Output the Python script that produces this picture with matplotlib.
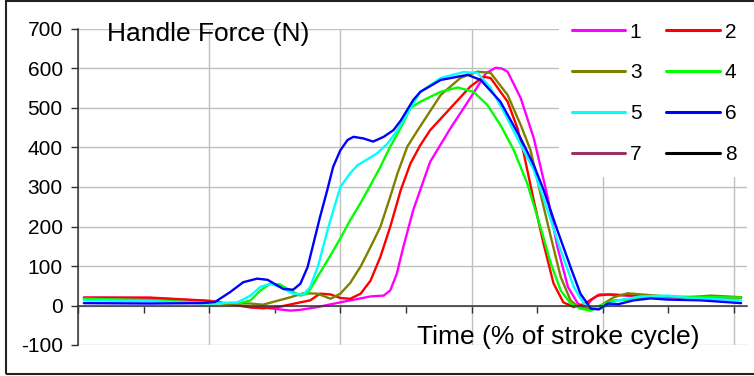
"""
Handle force over the stroke cycle for eight trials.
"""

import matplotlib
matplotlib.use("Agg")
import matplotlib.pyplot as plt
from matplotlib.patches import Rectangle

plt.rcParams["font.family"] = ["Liberation Sans", "DejaVu Sans"]
plt.rcParams["axes.unicode_minus"] = False

# trial labels and line colours
labels = ["1", "2", "3", "4", "5", "6", "7", "8"]
colors = ["#FF00FF", "#FF0000", "#808000", "#00FF00",
          "#00FFFF", "#0000FF", "#993366", "#000000"]

# time (% of stroke cycle) and handle force (N) per trial
t1 = [0.9, 11.0, 20.0, 26.3, 28.2, 32.4, 33.9, 36.5, 40.0, 41.5, 43.1, 44.6, 46.6,
      47.6, 48.6, 49.6, 51.1, 52.7, 53.7, 56.8, 59.8, 61.4, 62.2, 63.7, 64.6, 65.5,
      67.5, 69.5, 71.6, 73.1, 74.7, 76.2, 77.4, 78.3, 79.5, 81.7, 84.7, 90.0, 95.0, 101.1]
f1 = [20, 19, 11, -4, -5, -13, -11, -4, 8, 13, 18, 23, 25,
      38, 80, 148, 241, 317, 364, 449, 525, 567, 588, 602, 600, 592,
      525, 423, 275, 148, 47, 5, -4, 15, 28, 27, 24, 21, 20, 20]

t2 = [0.9, 11.0, 20.0, 26.3, 28.2, 30.8, 33.9, 35.4, 36.9, 38.5, 40.0, 41.5, 43.1,
      44.6, 46.1, 47.6, 49.2, 50.7, 52.2, 53.7, 56.8, 59.8, 61.8, 62.9, 65.5, 67.0,
      67.9, 69.5, 71.0, 72.5, 74.0, 75.6, 77.1, 79.2, 80.8, 83.8, 87.3, 95.0, 101.1]
f2 = [20, 20, 12, -5, -7, -3, 8, 13, 30, 28, 19, 17, 30,
      63, 123, 199, 292, 360, 406, 444, 500, 554, 579, 576, 516, 449,
      390, 265, 155, 56, 8, -4, 3, 25, 28, 26, 22, 20, 20]

t3 = [0.9, 11.0, 20.0, 26.3, 28.2, 32.4, 34.4, 36.5, 38.5, 40.0, 41.5, 43.1, 44.6,
      46.1, 47.6, 48.7, 50.2, 51.8, 55.3, 58.3, 60.9, 62.9, 65.5, 67.5, 69.0, 70.5,
      72.1, 73.6, 75.1, 76.3, 78.2, 79.7, 81.7, 83.8, 87.3, 92.4, 96.5, 101.1]
f3 = [17, 14, 6, 5, 2, 21, 31, 30, 17, 30, 57, 99, 148,
      199, 275, 334, 402, 444, 533, 576, 592, 589, 533, 457, 393, 284,
      173, 72, 13, -4, -8, 0, 21, 31, 26, 20, 25, 21]

t4 = [0.9, 11.0, 20.0, 24.7, 26.3, 27.8, 29.3, 30.8, 32.4, 33.9, 35.0, 36.5, 38.5,
      40.0, 41.5, 43.1, 44.6, 46.1, 47.6, 49.2, 50.7, 52.2, 55.3, 57.9, 60.3, 62.4,
      64.4, 66.4, 68.5, 70.5, 72.1, 73.6, 75.1, 76.6, 78.2, 79.7, 81.7, 84.7, 87.3,
      89.9, 101.1]
f4 = [17, 13, 6, 6, 13, 38, 55, 53, 38, 25, 30, 72, 127,
      170, 216, 260, 305, 351, 402, 450, 500, 516, 541, 552, 541, 508,
      457, 395, 309, 199, 106, 38, 5, -8, -13, 0, 13, 15, 21,
      23, 20]

t5 = [0.9, 11.0, 20.0, 24.3, 26.3, 27.8, 29.3, 30.8, 32.8, 34.4, 35.4, 36.6, 38.2,
      40.0, 41.5, 42.6, 43.5, 45.6, 47.2, 48.7, 52.2, 55.3, 58.8, 60.9, 62.9, 64.9,
      67.0, 69.5, 71.6, 73.6, 75.6, 77.1, 78.6, 80.2, 82.3, 85.8, 89.9, 92.4, 101.1]
f5 = [13, 11, 5, 8, 25, 47, 55, 47, 30, 28, 47, 100, 200,
      300, 335, 355, 364, 385, 410, 444, 541, 576, 591, 589, 551, 491,
      423, 343, 241, 140, 47, 5, -8, -4, 13, 23, 25, 20, 13]

t6 = [0.9, 11.0, 19.0, 20.9, 23.2, 25.2, 27.3, 28.9, 31.3, 32.8, 33.9, 35.0, 35.9,
      36.9, 38.0, 38.9, 40.0, 41.1, 42.0, 43.5, 45.0, 46.6, 48.1, 49.2, 51.1, 52.2,
      55.3, 59.4, 61.4, 64.4, 67.5, 69.5, 71.0, 73.1, 75.1, 76.6, 78.2, 79.4, 80.8,
      82.3, 84.7, 87.3, 89.9, 95.0, 101.1]
f6 = [6, 5, 6, 9, 34, 59, 68, 65, 42, 40, 55, 97, 157,
      224, 292, 351, 393, 419, 427, 423, 415, 427, 444, 468, 520, 541,
      571, 584, 571, 516, 423, 355, 292, 190, 97, 30, -8, -10, 5,
      3, 13, 18, 15, 13, 6]

# trials 7 and 8 have no recorded samples
t7, f7 = [], []
t8, f8 = [], []

series = [(t1, f1), (t2, f2), (t3, f3), (t4, f4),
          (t5, f5), (t6, f6), (t7, f7), (t8, f8)]

y_ticks = [-100, 0, 100, 200, 300, 400, 500, 600, 700]

W, H = 754, 376
fig = plt.figure(figsize=(W / 100, H / 100), dpi=100)
ax = fig.add_axes([78 / W, 1 - 345 / H, 669 / W, 316 / H])

handles = []
for (t, f), c, lab in zip(series, colors, labels):
    ln, = ax.plot(t, f, color=c, lw=1.7, label=lab, solid_capstyle="round",
                  solid_joinstyle="round")
    handles.append(ln)

ax.set_xlim(0, 102)
ax.set_ylim(-100, 700)
ax.set_yticks(y_ticks)
ax.set_xticks(range(0, 101, 20))
ax.set_xticks(range(10, 101, 20), minor=True)
ax.set_xticklabels([])
ax.grid(True, which="major", color="#c0c0c0", lw=1)
ax.set_axisbelow(True)

for side in ("top", "right"):
    ax.spines[side].set_visible(False)
ax.spines["bottom"].set_position(("data", 0))
for side in ("left", "bottom"):
    ax.spines[side].set_color("#303030")
    ax.spines[side].set_linewidth(1.1)

ax.tick_params(axis="y", direction="out", length=5, width=1, color="#303030",
               labelsize=15, pad=6)
ax.tick_params(axis="x", which="both", direction="out", length=5, width=1,
               color="#303030")

# legend laid out row by row: 1 2 / 3 4 / 5 6 / 7 8
order = [0, 2, 4, 6, 1, 3, 5, 7]
leg = ax.legend([handles[i] for i in order], [labels[i] for i in order],
                ncol=2, loc="upper left", bbox_to_anchor=(559 / W, 1 - 10 / H),
                bbox_transform=fig.transFigure, fontsize=15, frameon=True,
                facecolor="white", edgecolor="none", framealpha=1, fancybox=False,
                handlelength=2.55, handletextpad=0.25, columnspacing=1.2,
                labelspacing=1.05, borderpad=0.6, borderaxespad=0)
for ln in leg.get_lines():
    ln.set_linewidth(2.2)

fig.text(107 / W, 1 - 41 / H, "Handle Force (N)", fontsize=19, va="baseline")
fig.text(417 / W, 1 - 344 / H, "Time (% of stroke cycle)", fontsize=19,
         va="baseline")

# outer chart border
fig.add_artist(Rectangle((5.5 / W, 2.5 / H), 1.0, 373 / H, transform=fig.transFigure,
                         fill=False, edgecolor="#222222", lw=1.5))

fig.savefig("out.png", dpi=100)
